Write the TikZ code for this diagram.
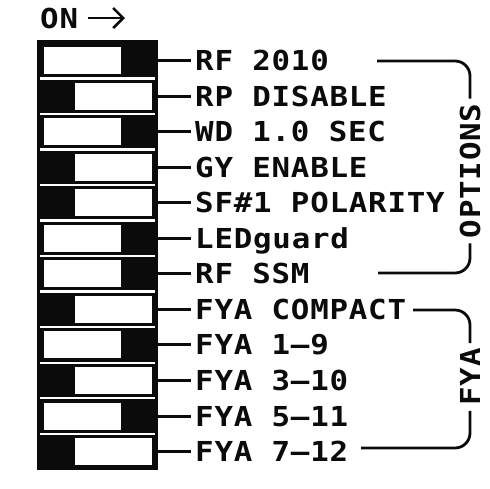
\documentclass[tikz,border=0pt]{standalone}
\usepackage{fontspec}
\usepackage{xcolor}
\usepackage{tikz}
\usetikzlibrary{arrows.meta}
\newfontfamily\dipfont[FakeStretch=1.12, LetterSpace=2.8]{DejaVu Sans Mono}
\definecolor{DipInk}{HTML}{0B0B0B}
\definecolor{DipPaper}{HTML}{FFFFFF}
\tikzset{
  dip body/.style={
    fill=DipInk, inner sep=0pt, minimum width=121pt, minimum height=430pt
  },
  dip gap/.style={DipPaper, line width=2.4pt},
  dip knob/.style={
    fill=DipPaper, inner sep=0pt, minimum width=77pt, minimum height=27pt
  },
  knob left/.style={dip knob, xshift=-15pt},
  knob right/.style={dip knob, xshift=15.5pt},
  dip label/.style={
    anchor=west, inner xsep=4pt, inner ysep=0pt, text height=20pt,
    text depth=0pt, text=DipInk,
    font=\dipfont\bfseries\fontsize{27.5}{30}\selectfont
  },
  dip tag/.style={dip label, anchor=center, rotate=90, inner xsep=5pt},
  dip lead/.style={DipInk, line width=3pt},
  dip brace/.style={DipInk, line width=2.8pt, rounded corners=15pt},
  dip arr/.style={DipInk, line width=2.6pt,
    -{Straight Barb[length=10pt, width=20pt]}}
}

\begin{document}
\begin{tikzpicture}[x=1pt, y=-1pt]
  \useasboundingbox (0,0) rectangle (490,488);

  \node[dip label] (on) at (36,18) {ON};
  \coordinate (onTip) at (125,18);
  \draw[dip arr] ([xshift=6pt]on.east) -- (onTip);

  \node[dip body] (body) at (97.5,255) {};
  \draw[dip gap] (40,78.3) -- (155,78.3) (40,113.8) -- (155,113.8)
    (40,149.4) -- (155,149.4) (40,184.9) -- (155,184.9)
    (40,220.5) -- (155,220.5) (40,256) -- (155,256)
    (40,291.6) -- (155,291.6) (40,327.1) -- (155,327.1)
    (40,362.7) -- (155,362.7) (40,398.2) -- (155,398.2)
    (40,433.8) -- (155,433.8);

  \node[knob left] (sw1) at (97.5,60.5) {};
  \node[knob right] (sw2) at (97.5,96) {};
  \node[knob left] (sw3) at (97.5,131.6) {};
  \node[knob right] (sw4) at (97.5,167.2) {};
  \node[knob right] (sw5) at (97.5,202.7) {};
  \node[knob left] (sw6) at (97.5,238.2) {};
  \node[knob left] (sw7) at (97.5,273.8) {};
  \node[knob right] (sw8) at (97.5,309.4) {};
  \node[knob left] (sw9) at (97.5,344.9) {};
  \node[knob right] (sw10) at (97.5,380.4) {};
  \node[knob left] (sw11) at (97.5,416) {};
  \node[knob right] (sw12) at (97.5,451.6) {};

  \node[dip label] (rf2010) at (191,60.5) {RF 2010};
  \node[dip label] (rpdis) at (191,96) {RP DISABLE};
  \node[dip label] (wdsec) at (191,131.6) {WD 1.0 SEC};
  \node[dip label] (gyen) at (191,167.2) {GY ENABLE};
  \node[dip label] (sfpol) at (191,202.7) {SF\#1 POLARITY};
  \node[dip label] (ledg) at (191,238.2) {LEDguard};
  \node[dip label] (rfssm) at (191,273.8) {RF SSM};
  \node[dip label] (fyacp) at (191,309.4) {FYA COMPACT};
  \node[dip label] (fya9) at (191,344.9) {FYA 1–9};
  \node[dip label] (fya10) at (191,380.4) {FYA 3–10};
  \node[dip label] (fya11) at (191,416) {FYA 5–11};
  \node[dip label] (fya12) at (191,451.6) {FYA 7–12};

  \draw[dip lead] (body.east |- sw1) -- (rf2010.west);
  \draw[dip lead] (body.east |- sw2) -- (rpdis.west);
  \draw[dip lead] (body.east |- sw3) -- (wdsec.west);
  \draw[dip lead] (body.east |- sw4) -- (gyen.west);
  \draw[dip lead] (body.east |- sw5) -- (sfpol.west);
  \draw[dip lead] (body.east |- sw6) -- (ledg.west);
  \draw[dip lead] (body.east |- sw7) -- (rfssm.west);
  \draw[dip lead] (body.east |- sw8) -- (fyacp.west);
  \draw[dip lead] (body.east |- sw9) -- (fya9.west);
  \draw[dip lead] (body.east |- sw10) -- (fya10.west);
  \draw[dip lead] (body.east |- sw11) -- (fya11.west);
  \draw[dip lead] (body.east |- sw12) -- (fya12.west);

  % group brackets
  \node[dip tag] (opts) at (470,171) {OPTIONS};
  \coordinate (optTop) at (377,61);
  \coordinate (optBot) at (378,273);
  \draw[dip brace] (optTop) -| (opts.east);
  \draw[dip brace] (optBot) -| (opts.west);

  \node[dip tag] (fyatag) at (470,377) {FYA};
  \coordinate (fyaTop) at (413,310);
  \coordinate (fyaBot) at (361,448);
  \draw[dip brace] (fyaTop) -| (fyatag.east);
  \draw[dip brace] (fyaBot) -| (fyatag.west);
\end{tikzpicture}
\end{document}
